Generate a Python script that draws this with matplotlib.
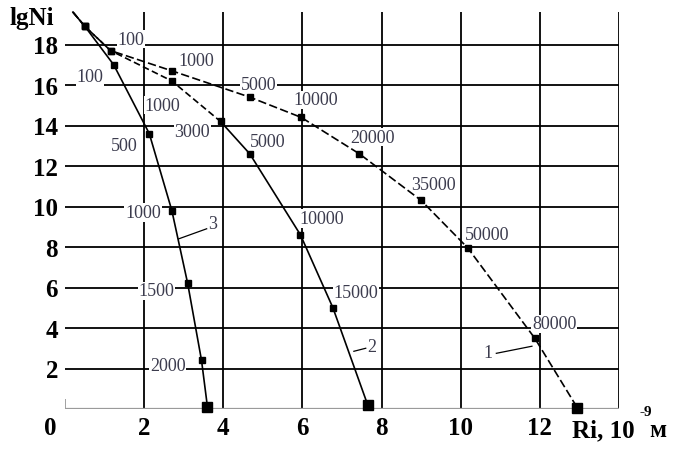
import matplotlib
matplotlib.use("Agg")
import matplotlib.pyplot as plt

# ---- data --------------------------------------------------------------------
# curve 1
R1 = [0.2, 0.5, 1.15, 2.7, 4.67, 5.97, 7.44, 9.0, 10.18, 11.87, 12.95]
LGN1 = [19.6, 18.9, 17.7, 16.7, 15.4, 14.4, 12.6, 10.3, 7.95, 3.5, 0.05]
# curve 2
R2 = [0.2, 0.5, 1.15, 2.7, 3.93, 4.67, 5.95, 6.77, 7.65]
LGN2 = [19.6, 18.9, 17.7, 16.2, 14.2, 12.6, 8.6, 5.0, 0.2]
# curve 3
R3 = [0.2, 0.5, 1.23, 2.13, 2.7, 3.1, 3.45, 3.6]
LGN3 = [19.6, 18.9, 17.0, 13.6, 9.8, 6.2, 2.4, 0.1]

# point annotations: (text, x, y)
LABELS1 = [("100", 1.67, 18.27), ("1000", 3.31, 17.23), ("5000", 4.9, 16.0),
           ("10000", 6.34, 15.26), ("20000", 7.78, 13.43), ("35000", 9.3, 11.1),
           ("50000", 10.66, 8.64), ("80000", 12.36, 4.2)]
LABELS2 = [("1000", 2.47, 15.0), ("3000", 3.22, 13.7), ("5000", 5.12, 13.2),
           ("10000", 6.5, 9.4), ("15000", 7.36, 5.77)]
LABELS3 = [("100", 0.63, 16.4), ("500", 1.49, 13.0), ("1000", 1.97, 9.7),
           ("1500", 2.32, 5.83), ("2000", 2.6, 2.17)]

# curve number callouts: (number, label x, label y, line from x,y, line to x,y)
CALLOUTS = [("1", 10.7, 2.8, 10.9, 2.75, 11.8, 3.1),
            ("2", 7.75, 3.1, 7.3, 2.85, 7.6, 3.0),
            ("3", 3.72, 9.15, 2.87, 8.4, 3.58, 8.9)]

XTICKS = [2, 4, 6, 8, 10, 12]
YTICKS = [2, 4, 6, 8, 10, 12, 14, 16, 18]

SERIF = "Liberation Serif"
INK = "black"
LABEL_COL = "#3c3c4e"

fig = plt.figure(figsize=(6.75, 4.52), dpi=100)
ax = fig.add_axes([65 / 675, 42 / 452, 554 / 675, 405 / 452])
ax.set_xlim(0, 14)
ax.set_ylim(0, 20)
for s in ax.spines.values():
    s.set_visible(False)

# grid
ax.hlines(YTICKS, 0, 14, color=INK, lw=1.3, zorder=1)
ax.vlines(XTICKS + [14], 0, 19.6, color=INK, lw=1.3, zorder=1)
ax.hlines(0, 0, 14, color="#9a9a9a", lw=1.6, zorder=1)
ax.vlines(0, 0, 0.5, color="#9a9a9a", lw=1.3, zorder=1)

# curves
ax.plot(R1, LGN1, color=INK, lw=1.2, ls=(0, (5, 2)), zorder=3)
ax.plot(R2[:5], LGN2[:5], color=INK, lw=1.2, ls=(0, (4, 2)), zorder=3)
ax.plot(R2[4:], LGN2[4:], color=INK, lw=1.2, zorder=3)
ax.plot(R3, LGN3, color=INK, lw=1.2, zorder=3)
for xs, ys in [(R1, LGN1), (R2, LGN2), (R3, LGN3)]:
    ax.plot(xs[1:-1], ys[1:-1], ls="none", marker="s", ms=5, color=INK, zorder=4)
    ax.plot(xs[-1], ys[-1], ls="none", marker="s", ms=6.5, color=INK, zorder=4, clip_on=False)

for lab in (LABELS1, LABELS2, LABELS3):
    for t, x, y in lab:
        ax.text(x, y, t, ha="center", va="center", fontsize=13, family=SERIF,
                color=LABEL_COL, zorder=2,
                bbox=dict(facecolor="white", edgecolor="none", pad=0.5))

for t, tx, ty, x0, y0, x1, y1 in CALLOUTS:
    ax.plot([x0, x1], [y0, y1], color=INK, lw=0.9, zorder=3)
    ax.text(tx, ty, t, ha="center", va="center", fontsize=13, family=SERIF,
            color=LABEL_COL, zorder=2)

# ticks
ax.set_xticks(XTICKS)
ax.set_xticklabels([str(v) for v in XTICKS])
ax.set_yticks(YTICKS)
ax.set_yticklabels([str(v) for v in YTICKS])
ax.tick_params(length=0, pad=5, labelsize=18)
for lbl in ax.get_xticklabels() + ax.get_yticklabels():
    lbl.set_family(SERIF)
    lbl.set_fontweight("bold")

ax.text(-0.38, -0.9, "0", ha="center", va="center", fontsize=18, family=SERIF,
        fontweight="bold", clip_on=False)
fig.text(32 / 675, 1 - 18 / 452, "lgNi", ha="center", va="center", fontsize=18,
         family=SERIF, fontweight="bold")
base = 1 - 437 / 452
fig.text(572 / 675, base, "Ri, 10", ha="left", va="baseline", fontsize=18,
         family=SERIF, fontweight="bold")
fig.text(646 / 675, 1 - 413 / 452, "-9", ha="center", va="center", fontsize=11,
         family=SERIF, fontweight="bold")
fig.text(658 / 675, base, "м", ha="center", va="baseline", fontsize=18,
         family=SERIF, fontweight="bold")

fig.savefig("out.png", dpi=100)
